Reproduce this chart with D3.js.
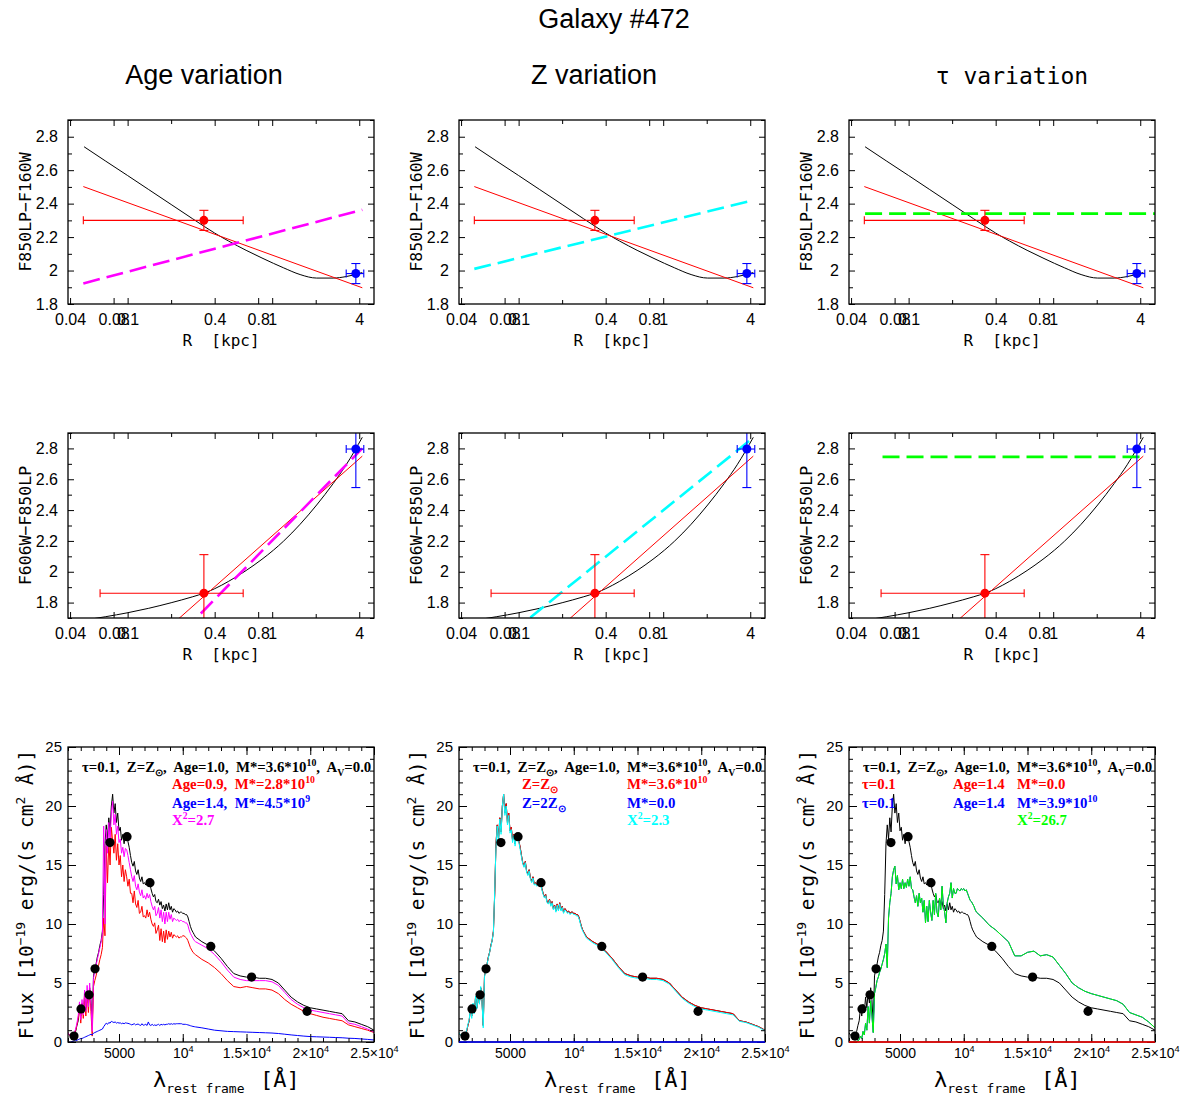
<!DOCTYPE html>
<html>
<head>
<meta charset="utf-8">
<title>Galaxy #472</title>
<script src="https://cdn.jsdelivr.net/npm/d3@7"></script>
<style>
  html, body { margin: 0; padding: 0; background: #fff; }
  svg { display: block; }
  text { white-space: pre; }
</style>
</head>
<body>
<svg id="fig" width="1186" height="1101"></svg>
<script>
// ---------------- Titles ----------------
const figureTitle = "Galaxy #472";
const columnTitles = ["Age variation", "Z variation", "τ variation"];

// ---------------- Radial colour profiles (R in kpc) ----------------
const radiusModel   = [0.05, 0.07, 0.1, 0.14, 0.2, 0.28, 0.34, 0.4, 0.5, 0.66, 0.85, 1.02, 1.2, 1.56, 2.03, 2.64, 3.25, 4.2];
const colourModelZH = [2.74, 2.656, 2.568, 2.484, 2.395, 2.311, 2.263, 2.224, 2.176, 2.121, 2.075, 2.043, 2.016, 1.976, 1.955, 1.955, 1.964, 1.988];
const colourModelVZ = [1.686, 1.708, 1.734, 1.763, 1.799, 1.837, 1.862, 1.89, 1.938, 2.008, 2.081, 2.14, 2.199, 2.308, 2.433, 2.572, 2.694, 2.872];

// straight-line fit through the two apertures
const radiusFit = [0.0494, 4.2];
const fitZH = [2.502, 1.897];
const fitVZ = [1.148, 2.75];

// gradients predicted by each parameter variation
const ageZH = [1.923, 2.363];
const ageVZ = [0.95, 2.80];
const metZH = [2.01, 2.42];
const metVZ = [1.41, 2.87];
const tauRadiusZH = [0.05, 5.06];
const tauZH = [2.34, 2.34];
const tauRadiusVZ = [0.066, 4.4];
const tauVZ = [2.745, 2.745];

// aperture measurements: inner (red) and outer (blue)
const measRadius   = [0.337, 3.79];
const measRadiusLoZH = [0.0494, 3.25];
const measRadiusLoVZ = [0.0645, 3.25];
const measRadiusHi = [0.63, 4.3];
const measZH    = [2.30, 1.982];
const measZHerr = [0.06, 0.06];
const measVZ    = [1.861, 2.796];
const measVZerr = [0.25, 0.25];

// ---------------- Spectral energy distributions ----------------
const lambdaGrid = [
  1000, 1100, 1200, 1300, 1400, 1500, 1600, 1700, 1800, 1900,
  2000, 2100, 2200, 2300, 2400, 2500, 2600, 2700, 2800, 2900,
  3000, 3100, 3200, 3300, 3400, 3500, 3600, 3700, 3800, 3900,
  4000, 4100, 4200, 4300, 4400, 4500, 4600, 4700, 4800, 4900,
  5000, 5100, 5200, 5300, 5400, 5500, 5600, 5700, 5800, 5900,
  6000, 6100, 6200, 6300, 6400, 6500, 6600, 6700, 6800, 6900,
  7000, 7100, 7200, 7300, 7400, 7500, 7600, 7700, 7800, 7900,
  8000, 8100, 8200, 8300, 8400, 8500, 8600, 8700, 8800, 8900,
  9000, 9100, 9200, 9300, 9400, 9500, 9600, 9700, 9800, 9900,
  10000, 10100, 10200, 10300, 10400, 10500, 10600, 10700, 10800, 10900,
  11000,
  11500, 12000, 12500, 13000, 13500, 14000, 14500, 15000, 15500, 16000,
  16500, 17000, 17500, 18000, 18500, 19000, 19500, 20000, 20500, 21000,
  21500, 22000, 22500, 23000, 23500, 24000, 24500, 25000
];

// best model: tau=0.1, Z=Zsun, Age=1.0, M*=3.6e10
const fluxModel = [
  0.8, 0.6, 0.5, 0.6, 0.5, 0.7, 0.9, 1.4, 1.8, 2.9,
  2.2, 3.2, 2.5, 3.8, 2.9, 4.2, 3.3, 4.6, 3.6, 1.4,
  5.6, 6.2, 6.6, 7.2, 7.6, 8.2, 8.6, 9.4, 12.5, 16.8,
  18.4, 17.2, 19.0, 17.8, 20.0, 21.0, 19.4, 20.2, 18.6, 19.4,
  17.9, 18.2, 17.1, 17.6, 16.8, 17.6, 17.4, 17.0, 16.5, 15.8,
  15.2, 14.9, 15.3, 14.5, 14.2, 14.6, 13.9, 13.6, 14.0, 13.4,
  13.5, 13.3, 13.7, 13.4, 13.6, 13.0, 12.6, 12.3, 12.5, 11.9,
  11.8, 12.1, 11.6, 11.9, 11.3, 11.6, 11.1, 11.7, 11.2, 11.8,
  11.2, 11.5, 11.0, 11.3, 11.2, 11.0, 11.1, 10.9, 11.0, 11.0,
  10.9, 10.9, 10.8, 10.8, 10.6, 10.2, 9.8, 9.5, 9.3, 9.1,
  8.9,
  8.5, 8.2, 7.7, 7.1, 6.4, 5.8, 5.6, 5.5, 5.5, 5.4,
  5.4, 5.3, 5.0, 4.4, 3.8, 3.4, 3.1, 2.9, 2.8, 2.7,
  2.6, 2.5, 2.4, 1.8, 1.7, 1.5, 1.3, 1.0
];

// age variation: young component (Age=0.9), old component (Age=1.4) and their sum
const fluxAgeYoung = [
  0.8, 0.6, 0.5, 0.55, 0.45, 0.7, 1.0, 1.45, 2.0, 3.1,
  1.6, 3.3, 2.0, 4.0, 2.2, 4.3, 2.5, 4.4, 2.6, 0.5,
  4.7, 5.2, 5.6, 6.1, 6.5, 7.0, 7.4, 8.0, 10.5, 9.0,
  16.6, 13.5, 17.0, 15.0, 18.2, 17.0, 16.0, 17.6, 15.4, 16.8,
  15.0, 15.8, 14.0, 15.0, 13.6, 14.6, 14.0, 13.2, 13.8, 12.6,
  12.6, 11.8, 12.8, 11.7, 11.4, 12.0, 10.9, 11.0, 11.5, 10.6,
  10.7, 10.5, 11.2, 10.6, 11.0, 10.4, 10.0, 9.8, 10.1, 9.2,
  9.5, 9.9, 8.6, 9.6, 8.5, 9.4, 8.4, 9.5, 8.7, 9.4,
  8.9, 9.3, 8.8, 9.1, 9.0, 8.9, 9.0, 8.8, 8.9, 8.9,
  9.0, 9.0, 8.9, 8.8, 8.6, 8.3, 8.0, 7.8, 7.6, 7.5,
  7.4,
  7.0, 6.7, 6.3, 5.8, 5.2, 4.7, 4.6, 4.7, 4.6, 4.5,
  4.5, 4.4, 4.1, 3.6, 3.2, 2.9, 2.6, 2.4, 2.25, 2.1,
  2.0, 1.9, 1.8, 1.45, 1.3, 1.15, 1.0, 0.8
];
const fluxAgeOld = [
  0.0, 0.0, 0.0, 0.05, 0.05, 0.1, 0.1, 0.15, 0.2, 0.25,
  0.3, 0.3, 0.35, 0.4, 0.45, 0.5, 0.55, 0.6, 0.65, 0.6,
  0.75, 0.8, 0.85, 0.9, 0.95, 1.0, 1.05, 1.1, 1.3, 1.45,
  1.6, 1.5, 1.65, 1.6, 1.75, 1.7, 1.65, 1.7, 1.6, 1.65,
  1.6, 1.62, 1.55, 1.6, 1.55, 1.62, 1.6, 1.58, 1.55, 1.5,
  1.45, 1.5, 1.55, 1.45, 1.5, 1.52, 1.45, 1.4, 1.55, 1.42,
  1.45, 1.5, 1.4, 1.7, 1.45, 1.4, 1.5, 1.4, 1.45, 1.4,
  1.45, 1.5, 1.4, 1.5, 1.45, 1.5, 1.45, 1.5, 1.5, 1.55,
  1.5, 1.55, 1.5, 1.55, 1.52, 1.55, 1.55, 1.55, 1.55, 1.55,
  1.5, 1.5, 1.5, 1.48, 1.45, 1.42, 1.38, 1.35, 1.32, 1.3,
  1.28,
  1.2, 1.1, 1.0, 0.95, 0.9, 0.88, 0.86, 0.84, 0.82, 0.8,
  0.78, 0.76, 0.72, 0.66, 0.6, 0.55, 0.5, 0.46, 0.44, 0.42,
  0.4, 0.38, 0.36, 0.32, 0.3, 0.26, 0.22, 0.17
];
const fluxAgeFit = [
  0.8, 0.6, 0.5, 0.6, 0.5, 0.8, 1.1, 1.6, 2.2, 3.4,
  1.9, 3.6, 2.3, 4.4, 2.6, 4.8, 3.0, 5.0, 3.2, 0.9,
  5.4, 6.0, 6.5, 7.0, 7.5, 8.0, 8.5, 9.2, 18.3, 10.0,
  18.0, 16.0, 18.6, 17.0, 19.4, 20.4, 18.4, 19.3, 17.6, 18.3,
  16.9, 17.2, 16.0, 16.5, 15.7, 16.4, 16.3, 15.8, 15.2, 14.6,
  14.0, 13.6, 14.1, 13.2, 12.9, 13.4, 12.7, 12.4, 12.9, 12.2,
  12.4, 12.1, 12.6, 12.2, 12.5, 11.9, 11.5, 11.2, 11.5, 10.7,
  10.9, 11.4, 10.5, 11.2, 10.2, 11.0, 10.0, 11.0, 10.2, 11.0,
  10.4, 10.8, 10.2, 10.5, 10.4, 10.3, 10.4, 10.2, 10.3, 10.3,
  10.2, 10.2, 10.1, 10.1, 9.9, 9.5, 9.2, 9.0, 8.8, 8.6,
  8.5,
  8.2, 7.9, 7.4, 6.8, 6.1, 5.5, 5.3, 5.2, 5.2, 5.2,
  5.2, 5.1, 4.8, 4.2, 3.6, 3.2, 2.9, 2.7, 2.6, 2.5,
  2.4, 2.3, 2.2, 1.6, 1.5, 1.3, 1.1, 0.85
];

// metallicity variation: best combination (Z=Zsun carries all the mass)
const fluxZFit = [
  0.8, 0.6, 0.5, 0.6, 0.5, 0.7, 1.0, 1.5, 1.9, 3.0,
  2.0, 3.3, 2.4, 3.9, 2.8, 4.3, 3.2, 4.7, 3.5, 1.2,
  5.5, 6.1, 6.6, 7.1, 7.6, 8.1, 8.6, 9.3, 12.8, 16.5,
  18.3, 17.0, 18.9, 17.6, 20.0, 21.0, 19.2, 20.0, 18.4, 19.2,
  17.7, 18.0, 16.9, 17.5, 16.6, 17.5, 17.3, 16.9, 16.3, 15.7,
  15.1, 14.8, 15.2, 14.4, 14.1, 14.5, 13.8, 13.5, 13.9, 13.3,
  13.4, 13.2, 13.6, 13.3, 13.5, 12.9, 12.5, 12.2, 12.4, 11.8,
  11.7, 12.0, 11.5, 11.8, 11.2, 11.5, 11.0, 11.6, 11.1, 11.7,
  11.1, 11.4, 10.9, 11.2, 11.1, 10.9, 11.0, 10.8, 10.9, 10.9,
  10.8, 10.8, 10.7, 10.7, 10.5, 10.1, 9.7, 9.4, 9.2, 9.0,
  8.8,
  8.4, 8.1, 7.6, 7.0, 6.3, 5.7, 5.5, 5.4, 5.4, 5.3,
  5.3, 5.2, 4.9, 4.3, 3.7, 3.3, 3.0, 2.8, 2.7, 2.6,
  2.5, 2.4, 2.3, 1.75, 1.65, 1.45, 1.25, 0.95
];

// star-formation timescale variation: best combination (Age=1.4 carries all the mass)
const fluxTauFit = [
  0.0, 0.0, 0.0, 0.0, 0.0, 0.0, 0.05, 0.1, 0.2, 0.5,
  0.3, 0.9, 0.6, 1.6, 1.0, 3.0, 1.6, 3.5, 2.2, 0.8,
  4.1, 4.6, 5.2, 5.5, 5.9, 6.2, 6.6, 7.0, 7.5, 8.3,
  6.3, 10.5, 11.8, 12.6, 14.0, 14.6, 14.9, 13.4, 14.1, 12.9,
  13.5, 13.0, 13.8, 13.0, 13.5, 13.1, 13.8, 13.2, 14.0, 13.0,
  12.9, 12.3, 11.8, 12.4, 11.5, 12.6, 11.8, 12.2, 11.0, 12.0,
  10.1, 11.5, 10.2, 12.0, 11.0, 10.3, 12.0, 10.8, 12.6, 11.0,
  10.6, 12.2, 11.2, 13.2, 11.6, 11.0, 10.1, 11.8, 12.3, 12.6,
  13.5, 12.2, 13.0, 12.6, 12.6, 13.0, 12.9, 12.8, 13.0, 12.9,
  13.0, 12.8, 12.9, 12.6, 12.3, 12.0, 11.9, 11.7, 11.5, 11.2,
  11.0,
  10.5, 9.9, 9.5, 9.0, 8.5, 7.3, 7.3, 7.6, 7.7, 7.3,
  7.4, 7.2, 6.5, 5.8, 5.0, 4.6, 4.3, 4.1, 3.95, 3.8,
  3.65, 3.5, 3.2, 2.5, 2.3, 2.1, 1.7, 1.2
];

// massless component
const lambdaZero = [1000, 25000];
const fluxZero = [0, 0];

// broad-band photometry
const photLambda = [1470, 2020, 2650, 3120, 4290, 5630, 7430, 12200, 15400, 19750];
const photFlux   = [0.5, 2.8, 4.0, 6.2, 16.9, 17.4, 13.5, 8.1, 5.5, 2.6];

// ---------------- Tick labels ----------------
const radialTicks = [0.04, 0.08, 0.1, 0.4, 0.8, 1, 4];
const radialTickLabels = ["0.04", "0.08", "0.1", "0.4", "0.8", "1", "4"];
const radialMinorTicks = [0.2, 2];
const colourTicks = [1.8, 2, 2.2, 2.4, 2.6, 2.8];
const colourTickLabels = ["1.8", "2", "2.2", "2.4", "2.6", "2.8"];
const colourMinorTicks = [1.7, 1.9, 2.1, 2.3, 2.5, 2.7, 2.9];
const fluxTicks = [0, 5, 10, 15, 20, 25];
const fluxTickLabels = ["0", "5", "10", "15", "20", "25"];
const lambdaTicks = [5000, 10000, 15000, 20000, 25000];
const lambdaTickLabels = [
  [["5000", ""]],
  [["10", ""], ["4", "sup"]],
  [["1.5×10", ""], ["4", "sup"]],
  [["2×10", ""], ["4", "sup"]],
  [["2.5×10", ""], ["4", "sup"]]
];

// ---------------- Drawing ----------------
const RED = "#ff0000", BLUE = "#0000ff", MAGENTA = "#ff00ff", CYAN = "#00ffff", GREEN = "#00ff00";
const SANS = "'Liberation Sans', Arial, sans-serif";
const MONO = "'DejaVu Sans Mono', monospace";
const SERIF = "'Liberation Serif', 'Times New Roman', serif";

const svg = d3.select("#fig");
const colLeft = [68, 459, 849];
const PW = 306;
const rows = {
  zh:  { top: 120, h: 184, domain: [1.8, 2.9], title: "F850LP−F160W" },
  vz:  { top: 433, h: 185, domain: [1.7, 2.9], title: "F606W−F850LP" },
  sed: { top: 747, h: 295 }
};

const xR = d3.scaleLog().domain([0.0387, 5.06]).range([0, PW]);
const xL = d3.scaleLinear().domain([1000, 25000]).range([0, PW]);
const yF = d3.scaleLinear().domain([0, 25]).range([rows.sed.h, 0]);

let clipCount = 0;
function addClip(g, w, h) {
  const id = "plotclip" + (clipCount++);
  g.append("clipPath").attr("id", id).append("rect").attr("width", w).attr("height", h);
  return `url(#${id})`;
}

// text made of plain, superscript and subscript runs
function rich(textSel, parts, size) {
  let shift = 0;
  parts.forEach(([t, kind]) => {
    const target = kind === "sup" ? -0.42 * size : kind === "sub" ? 0.3 * size : 0;
    const ts = textSel.append("tspan")
      .attr("font-size", kind ? +(size * 0.66).toFixed(1) : size)
      .text(t);
    if (target !== shift) ts.attr("dy", +(target - shift).toFixed(2));
    shift = target;
  });
}

// inward ticks on all four sides plus the box
function frame(g, x, y, w, h, xMaj, xMin, yMaj, yMin, lenMaj, lenMin) {
  const inX = v => v >= x.domain()[0] && v <= x.domain()[1];
  const inY = v => v >= y.domain()[0] && v <= y.domain()[1];
  const specs = [
    [d3.axisBottom, x, xMaj.filter(inX), lenMaj, `translate(0,${h})`],
    [d3.axisBottom, x, xMin.filter(inX), lenMin, `translate(0,${h})`],
    [d3.axisTop, x, xMaj.filter(inX), lenMaj, null],
    [d3.axisTop, x, xMin.filter(inX), lenMin, null],
    [d3.axisLeft, y, yMaj.filter(inY), lenMaj, null],
    [d3.axisLeft, y, yMin.filter(inY), lenMin, null],
    [d3.axisRight, y, yMaj.filter(inY), lenMaj, `translate(${w},0)`],
    [d3.axisRight, y, yMin.filter(inY), lenMin, `translate(${w},0)`]
  ];
  specs.forEach(([fn, sc, vals, len, tr]) => {
    const a = g.append("g");
    if (tr) a.attr("transform", tr);
    a.call(fn(sc).tickValues(vals).tickSizeInner(-len).tickSizeOuter(0).tickFormat(""));
    a.select(".domain").remove();
    a.selectAll("line").attr("stroke", "#000").attr("stroke-width", 1);
  });
  g.append("rect").attr("width", w).attr("height", h)
    .attr("fill", "none").attr("stroke", "#000").attr("stroke-width", 1.3);
}

function tickLabels(g, axisFn, sc, vals, fmt, pad, size, tr) {
  const a = g.append("g");
  if (tr) a.attr("transform", tr);
  a.call(axisFn(sc).tickValues(vals).tickSize(0).tickPadding(pad).tickFormat(fmt));
  a.select(".domain").remove();
  a.attr("font-family", SANS).attr("font-size", size);
  a.selectAll("text").attr("fill", "#000");
  return a;
}

// ---- figure and column titles ----
svg.append("text").attr("x", 614).attr("y", 28).attr("text-anchor", "middle")
  .attr("font-family", SANS).attr("font-size", 27).text(figureTitle);

const titleX = [204, 594, 1012];
const titleFont = [SANS, SANS, MONO];
const titleSize = [27, 27, 23];
columnTitles.forEach((t, i) => {
  svg.append("text").attr("x", titleX[i]).attr("y", 84).attr("text-anchor", "middle")
    .attr("font-family", titleFont[i]).attr("font-size", titleSize[i]).text(t);
});

// ---- radial colour panels ----
const variations = [
  { color: MAGENTA, zh: [radiusFit, ageZH], vz: [radiusFit, ageVZ] },
  { color: CYAN,    zh: [radiusFit, metZH], vz: [radiusFit, metVZ] },
  { color: GREEN,   zh: [tauRadiusZH, tauZH], vz: [tauRadiusVZ, tauVZ] }
];
const apertureColours = [RED, BLUE];

function radialPanel(ci, key) {
  const row = rows[key];
  const L = colLeft[ci];
  const y = d3.scaleLinear().domain(row.domain).range([row.h, 0]);
  const g = svg.append("g").attr("transform", `translate(${L},${row.top})`);
  const plot = g.append("g").attr("clip-path", addClip(g, PW, row.h));
  const line = d3.line().x(d => xR(d[0])).y(d => y(d[1]));
  const smooth = d3.line().x(d => xR(d[0])).y(d => y(d[1])).curve(d3.curveMonotoneX);

  const model = key === "zh" ? colourModelZH : colourModelVZ;
  const fit = key === "zh" ? fitZH : fitVZ;
  plot.append("path").attr("d", smooth(d3.zip(radiusModel, model)))
    .attr("fill", "none").attr("stroke", "#000").attr("stroke-width", 1);
  plot.append("path").attr("d", line(d3.zip(radiusFit, fit)))
    .attr("fill", "none").attr("stroke", RED).attr("stroke-width", 1);
  const v = variations[ci];
  plot.append("path").attr("d", line(d3.zip(v[key][0], v[key][1])))
    .attr("fill", "none").attr("stroke", v.color).attr("stroke-width", 2.6)
    .attr("stroke-dasharray", "17,7");

  const vals = key === "zh" ? measZH : measVZ;
  const errs = key === "zh" ? measZHerr : measVZerr;
  const lo = key === "zh" ? measRadiusLoZH : measRadiusLoVZ;
  measRadius.forEach((r, i) => {
    const c = apertureColours[i];
    const eb = plot.append("g").attr("stroke", c).attr("stroke-width", 1.1).attr("fill", "none");
    const cx = xR(r), cy = y(vals[i]);
    const x0 = xR(lo[i]), x1 = xR(measRadiusHi[i]);
    const y0 = y(vals[i] - errs[i]), y1 = y(vals[i] + errs[i]);
    eb.append("line").attr("x1", x0).attr("x2", x1).attr("y1", cy).attr("y2", cy);
    eb.append("line").attr("x1", x0).attr("x2", x0).attr("y1", cy - 4).attr("y2", cy + 4);
    eb.append("line").attr("x1", x1).attr("x2", x1).attr("y1", cy - 4).attr("y2", cy + 4);
    eb.append("line").attr("x1", cx).attr("x2", cx).attr("y1", y0).attr("y2", y1);
    eb.append("line").attr("x1", cx - 4.5).attr("x2", cx + 4.5).attr("y1", y0).attr("y2", y0);
    eb.append("line").attr("x1", cx - 4.5).attr("x2", cx + 4.5).attr("y1", y1).attr("y2", y1);
    plot.append("circle").attr("cx", cx).attr("cy", cy).attr("r", 4.5).attr("fill", c);
  });

  frame(g, xR, y, PW, row.h, radialTicks, radialMinorTicks, colourTicks, colourMinorTicks, 6, 4);
  tickLabels(g, d3.axisBottom, xR, radialTicks, (d, i) => radialTickLabels[i], 10, 16, `translate(0,${row.h})`);
  tickLabels(g, d3.axisLeft, y, colourTicks, (d, i) => colourTickLabels[i], 10, 16, null);

  g.append("text").attr("x", PW / 2).attr("y", row.h + 42).attr("text-anchor", "middle")
    .attr("font-family", MONO).attr("font-size", 16).text("R  [kpc]");
  g.append("text").attr("transform", `translate(-37,${row.h / 2}) rotate(-90)`)
    .attr("text-anchor", "middle").attr("font-family", MONO).attr("font-size", 16.5)
    .text(row.title);
}

// ---- SED panels ----
const sedLayers = [
  [ { l: lambdaGrid, f: fluxModel, c: "#000" },
    { l: lambdaGrid, f: fluxAgeYoung, c: RED },
    { l: lambdaGrid, f: fluxAgeOld, c: BLUE },
    { l: lambdaGrid, f: fluxAgeFit, c: MAGENTA } ],
  [ { l: lambdaGrid, f: fluxModel, c: "#000" },
    { l: lambdaGrid, f: fluxModel, c: RED },
    { l: lambdaZero, f: fluxZero, c: BLUE, edge: true },
    { l: lambdaGrid, f: fluxZFit, c: CYAN } ],
  [ { l: lambdaGrid, f: fluxModel, c: "#000" },
    { l: lambdaZero, f: fluxZero, c: RED, edge: true },
    { l: lambdaGrid, f: fluxTauFit, c: BLUE },
    { l: lambdaGrid, f: fluxTauFit, c: GREEN } ]
];

const legendHeader = [["τ=0.1,  Z=Z", ""], ["⊙", "sub"], [",  Age=1.0,  M*=3.6*10", ""], ["10", "sup"],
                      [",  A", ""], ["V", "sub"], ["=0.0", ""]];
const legendEntries = [
  [ { dx: 104, line: 1, c: RED, parts: [["Age=0.9,  M*=2.8*10", ""], ["10", "sup"]] },
    { dx: 104, line: 2, c: BLUE, parts: [["Age=1.4,  M*=4.5*10", ""], ["9", "sup"]] },
    { dx: 104, line: 3, c: MAGENTA, parts: [["X", ""], ["2", "sup"], ["=2.7", ""]] } ],
  [ { dx: 63, line: 1, c: RED, parts: [["Z=Z", ""], ["⊙", "sub"]] },
    { dx: 168, line: 1, c: RED, parts: [["M*=3.6*10", ""], ["10", "sup"]] },
    { dx: 63, line: 2, c: BLUE, parts: [["Z=2Z", ""], ["⊙", "sub"]] },
    { dx: 168, line: 2, c: BLUE, parts: [["M*=0.0", ""]] },
    { dx: 168, line: 3, c: CYAN, parts: [["X", ""], ["2", "sup"], ["=2.3", ""]] } ],
  [ { dx: 13, line: 1, c: RED, parts: [["τ=0.1", ""]] },
    { dx: 104, line: 1, c: RED, parts: [["Age=1.4", ""]] },
    { dx: 168, line: 1, c: RED, parts: [["M*=0.0", ""]] },
    { dx: 13, line: 2, c: BLUE, parts: [["τ=0.1", ""]] },
    { dx: 104, line: 2, c: BLUE, parts: [["Age=1.4", ""]] },
    { dx: 168, line: 2, c: BLUE, parts: [["M*=3.9*10", ""], ["10", "sup"]] },
    { dx: 168, line: 3, c: GREEN, parts: [["X", ""], ["2", "sup"], ["=26.7", ""]] } ]
];
const legendBaselines = [25, 42, 61, 78];
const LEG = 14.8;

function sedPanel(ci) {
  const row = rows.sed;
  const L = colLeft[ci];
  const g = svg.append("g").attr("transform", `translate(${L},${row.top})`);
  const plot = g.append("g").attr("clip-path", addClip(g, PW, row.h));
  const line = d3.line().x(d => xL(d[0])).y(d => yF(d[1]));

  sedLayers[ci].filter(s => !s.edge).forEach(s => {
    plot.append("path").attr("d", line(d3.zip(s.l, s.f)))
      .attr("fill", "none").attr("stroke", s.c).attr("stroke-width", 1).attr("stroke-linejoin", "bevel");
  });
  plot.selectAll("circle.phot").data(d3.zip(photLambda, photFlux)).join("circle")
    .attr("class", "phot").attr("cx", d => xL(d[0])).attr("cy", d => yF(d[1])).attr("r", 4.6).attr("fill", "#000");

  frame(g, xL, yF, PW, row.h, lambdaTicks, d3.range(1000, 25001, 1000), fluxTicks, d3.range(0, 26, 1), 8, 4);
  sedLayers[ci].filter(s => s.edge).forEach(s => {
    g.append("path").attr("d", line(d3.zip(s.l, s.f)))
      .attr("fill", "none").attr("stroke", s.c).attr("stroke-width", 1.5);
  });

  const xl = tickLabels(g, d3.axisBottom, xL, lambdaTicks, () => "", 6, 14, `translate(0,${row.h})`);
  xl.selectAll(".tick text").each(function (d, i) { rich(d3.select(this), lambdaTickLabels[i], 14); });
  tickLabels(g, d3.axisLeft, yF, fluxTicks, (d, i) => fluxTickLabels[i], 6, 15, null);

  // legend
  const header = g.append("text").attr("x", 14).attr("y", legendBaselines[0])
    .attr("font-family", SERIF).attr("font-weight", "bold").attr("fill", "#000");
  rich(header, legendHeader, LEG);
  legendEntries[ci].forEach(e => {
    const t = g.append("text").attr("x", e.dx).attr("y", legendBaselines[e.line])
      .attr("font-family", SERIF).attr("font-weight", "bold").attr("fill", e.c);
    rich(t, e.parts, LEG);
  });

  // axis titles
  const yt = g.append("text").attr("transform", `translate(-35,${row.h / 2}) rotate(-90)`)
    .attr("text-anchor", "middle").attr("font-family", MONO).attr("fill", "#000");
  rich(yt, [["Flux [10", ""], ["−19", "sup"], [" erg/(s cm", ""], ["2", "sup"], [" Å)]", ""]], 19.5);

  const xt = g.append("text").attr("x", 85).attr("y", row.h + 45).attr("font-family", MONO).attr("fill", "#000");
  xt.append("tspan").attr("font-size", 22).text("λ");
  xt.append("tspan").attr("font-size", 13).attr("dy", 6).text("rest frame");
  g.append("text").attr("x", 192).attr("y", row.h + 45).attr("font-family", MONO)
    .attr("font-size", 22).attr("fill", "#000").text("[Å]");
}

[0, 1, 2].forEach(ci => {
  radialPanel(ci, "zh");
  radialPanel(ci, "vz");
  sedPanel(ci);
});
</script>
</body>
</html>
